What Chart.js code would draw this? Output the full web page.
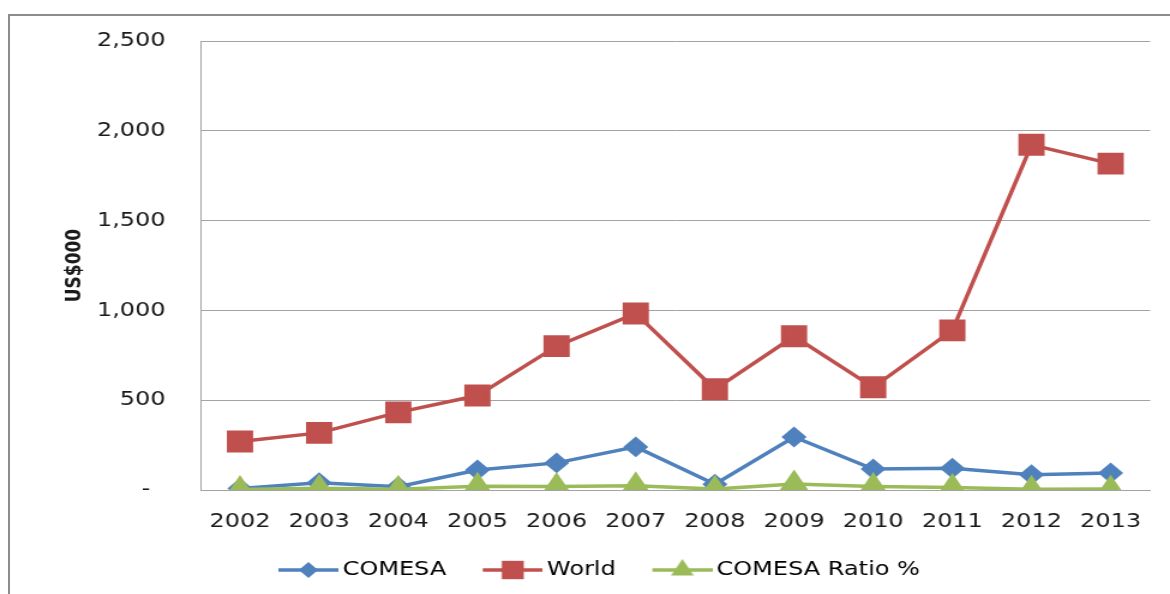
<!DOCTYPE html>
<html>
<head>
<meta charset="utf-8">
<script src="https://cdn.jsdelivr.net/npm/chart.js@4.4.1/dist/chart.umd.min.js"></script>
<style>
  html, body { margin: 0; padding: 0; background: #fff; overflow: hidden; }
  #frame { position: absolute; left: 8px; top: 14px; width: 1300px; height: 700px; border: 2px solid #8c8c8c; box-sizing: border-box; }
  /* the reference is stretched sideways, so the whole chart is too */
  #wrap { position: absolute; left: 0; top: 0; width: 975px; height: 594px; transform: scaleX(1.2); transform-origin: 0 0; }
</style>
</head>
<body>
<div id="frame"></div>
<div id="wrap"><canvas id="c" width="975" height="594"></canvas></div>
<script>
const FONT = "'DejaVu Sans', sans-serif";
const INK = "#1a1a1a";
const GRID = "#a3a3a3";

const years = ["2002", "2003", "2004", "2005", "2006", "2007", "2008", "2009", "2010", "2011", "2012", "2013"];
const comesa = [9, 40, 18, 111, 151, 240, 32, 295, 117, 121, 85, 95];
const world = [270, 318, 432, 526, 801, 983, 561, 856, 572, 889, 1922, 1817];
const ratio = [3, 10, 4, 21, 19, 23, 5, 34, 20, 14, 4, 5];

/* legend symbol: line with marker, drawn in the right part of a wider image */
function legendSymbol(color, style, r) {
  const c = document.createElement("canvas");
  c.width = 77; c.height = 30;
  const g = c.getContext("2d");
  const x0 = 27, cx = 52, cy = 15;
  g.strokeStyle = color; g.fillStyle = color; g.lineWidth = 3.5;
  g.beginPath(); g.moveTo(x0, cy); g.lineTo(77, cy); g.stroke();
  g.beginPath();
  if (style === "rect") {
    const s = r * Math.SQRT1_2;
    g.rect(cx - s, cy - s, 2 * s, 2 * s);
  } else if (style === "rectRot") {
    g.moveTo(cx, cy - r); g.lineTo(cx + r, cy); g.lineTo(cx, cy + r); g.lineTo(cx - r, cy);
  } else {
    g.moveTo(cx, cy - r); g.lineTo(cx + r * 0.866, cy + r / 2); g.lineTo(cx - r * 0.866, cy + r / 2);
  }
  g.closePath(); g.fill();
  return c;
}

new Chart(document.getElementById("c"), {
  type: "line",
  data: {
    labels: years,
    datasets: [
      { label: "COMESA", data: comesa, borderColor: "#4f81bd", backgroundColor: "#4f81bd", pointStyle: "rectRot", pointRadius: 8, borderWidth: 3.5, order: 2 },
      { label: "World", data: world, borderColor: "#c0504d", backgroundColor: "#c0504d", pointStyle: "rect", pointRadius: 13, borderWidth: 3.5, order: 1 },
      { label: "COMESA Ratio %", data: ratio, borderColor: "#9bbb59", backgroundColor: "#9bbb59", pointStyle: "triangle", pointRadius: 11, borderWidth: 3.5, order: 0 }
    ]
  },
  options: {
    responsive: false,
    devicePixelRatio: 1,
    animation: false,
    layout: { padding: { left: 17, right: 14, top: 41, bottom: 4 } },
    elements: { line: { tension: 0 }, point: { borderWidth: 1 } },
    plugins: {
      tooltip: { enabled: false },
      legend: {
        position: "bottom",
        labels: {
          usePointStyle: true, pointStyleWidth: 64, padding: 10,
          color: INK, font: { family: FONT, size: 20 },
          generateLabels: (chart) => chart.data.datasets.map((ds, i) => ({
            text: ds.label, datasetIndex: i, hidden: false, lineWidth: 0,
            fillStyle: ds.borderColor, strokeStyle: ds.borderColor,
            pointStyle: legendSymbol(ds.borderColor, ds.pointStyle, ds.pointRadius)
          }))
        }
      }
    },
    scales: {
      x: {
        offset: true,
        grid: { display: false },
        border: { display: true, color: GRID },
        ticks: { color: INK, font: { family: FONT, size: 20 }, padding: 12, maxRotation: 0 },
        afterFit: (s) => { s.height = 60; }
      },
      y: {
        min: 0, max: 2500,
        grid: { color: GRID, drawTicks: false },
        border: { display: true, color: GRID },
        ticks: {
          stepSize: 500, padding: 29, color: INK, font: { family: FONT, size: 20 },
          callback: (v) => v === 0 ? "-  " : v.toLocaleString("en-US")
        },
        title: { display: true, text: "US$000", color: INK, font: { family: FONT, size: 17, weight: "bold" }, padding: { top: 35, bottom: 0 } },
        afterFit: (s) => { s.width = 150; }
      }
    }
  }
});
</script>
</body>
</html>
